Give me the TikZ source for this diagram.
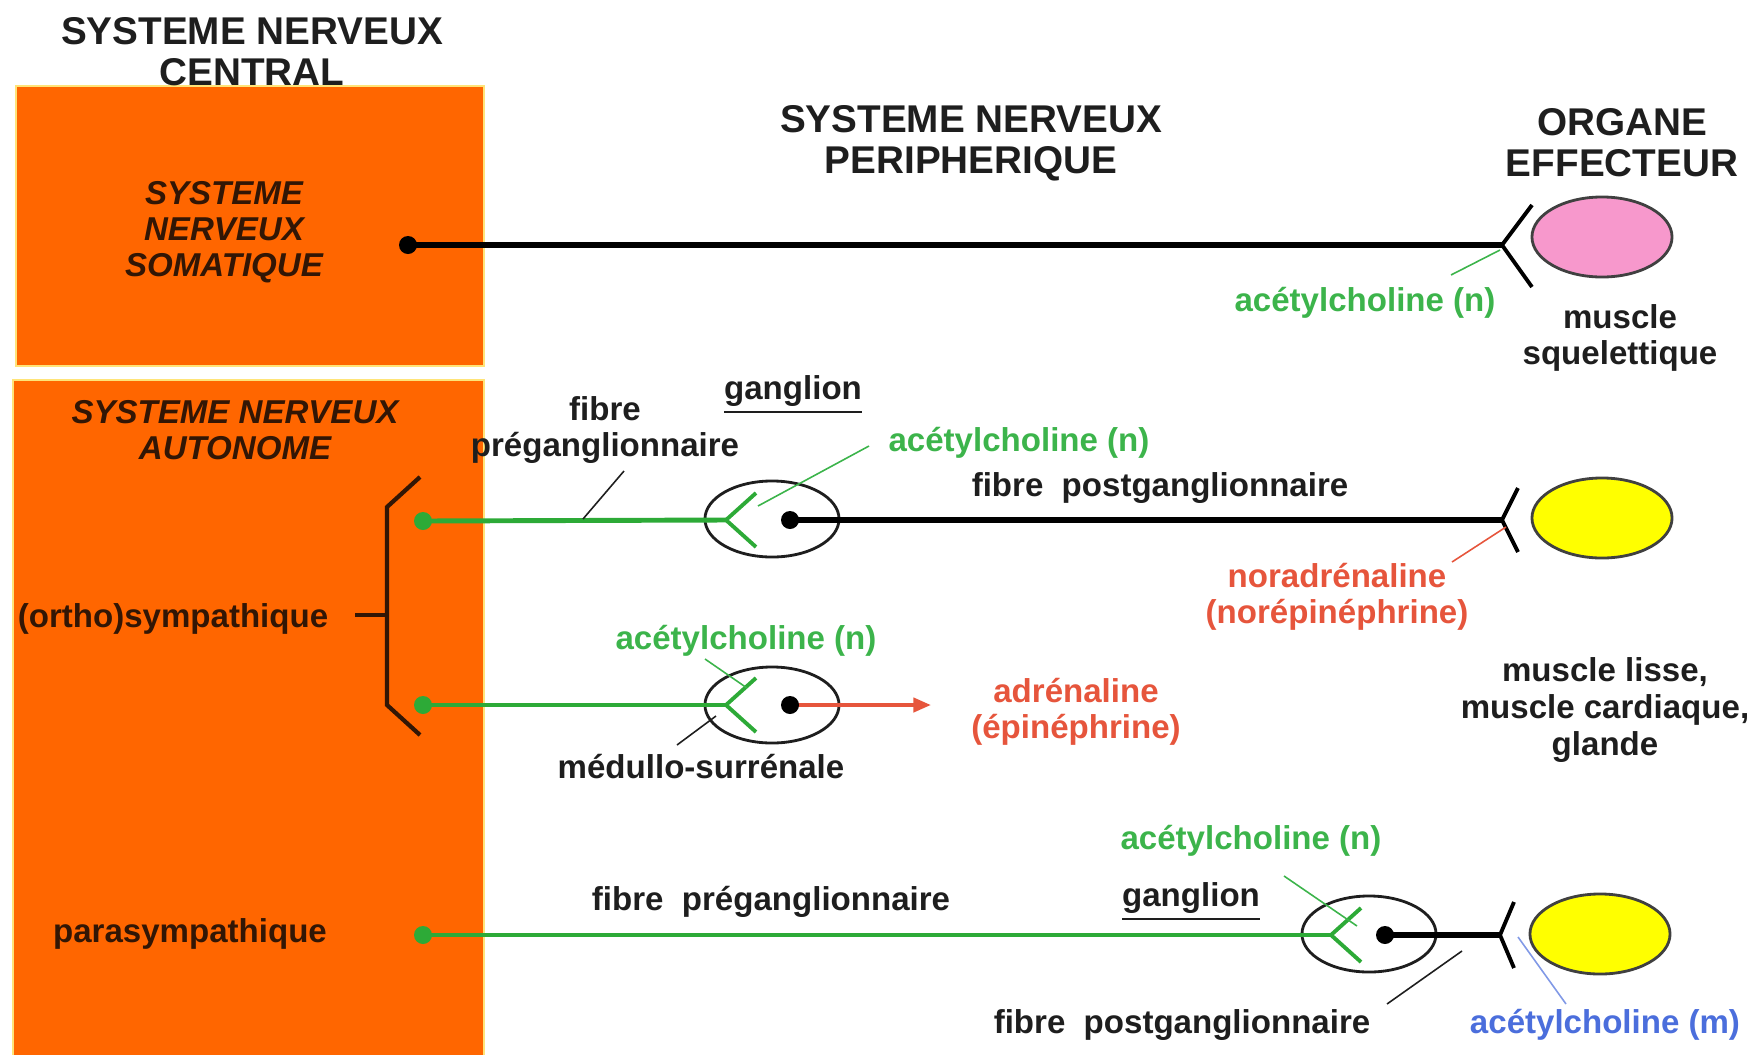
\documentclass[tikz,border=0pt]{standalone}
\usepackage{fontspec}
\setmainfont{Liberation Sans}
\usepackage{tikz}
\usetikzlibrary{shapes.geometric, arrows.meta}

\definecolor{snorange}{RGB}{255,102,0}
\definecolor{snedge}{RGB}{255,228,120}
\definecolor{snbrown}{RGB}{50,22,5}
\definecolor{sntext}{RGB}{30,30,30}
\definecolor{achgreen}{RGB}{60,180,75}
\definecolor{fibregreen}{RGB}{45,170,55}
\definecolor{nored}{RGB}{230,85,60}
\definecolor{achblue}{RGB}{75,110,220}
\definecolor{musclepink}{RGB}{247,152,204}
\definecolor{glandyellow}{RGB}{255,255,0}

\begin{document}
\begin{tikzpicture}[x=0.01cm, y=-0.01cm, every node/.style={font=\bfseries\fontsize{9.4}{10.4}\selectfont, align=center, inner sep=1pt, text=sntext}]

		\useasboundingbox (0,0) rectangle (1754,1054);

		% Define styles for the blocks, labels and fibres
		\tikzset{
			orange block/.style={fill=snorange, draw=snedge, line width=0.8pt},
			heading/.style={font=\bfseries\fontsize{11}{11.7}\selectfont},
			inner title/.style={font=\bfseries\itshape\fontsize{9.4}{10.3}\selectfont, text=snbrown},
			dark label/.style={text=snbrown},
			ach label/.style={text=achgreen},
			red label/.style={text=nored},
			blue label/.style={text=achblue},
			ganglion/.style={ellipse, draw=sntext, line width=0.8pt, minimum width=1.34cm, minimum height=0.76cm, inner sep=0pt},
			effector/.style={ellipse, draw=black!75, line width=0.8pt, minimum width=1.4cm, minimum height=0.8cm, inner sep=0pt},
			black fibre/.style={draw=black, line width=1.5pt},
			green fibre/.style={draw=fibregreen, line width=1.4pt},
			synapse/.style={line width=1.1pt},
			pointer/.style={line width=0.45pt}
		};

		% Central nervous system blocks
		\draw[orange block] (16,86) rectangle (484,366);
		\draw[orange block] (13,380) rectangle (484,1060);

		% Headings
		\node[heading] (snc) at (252,52) {SYSTEME NERVEUX\\CENTRAL};
		\node[heading] (snp) at (971,143) {SYSTEME NERVEUX\\PERIPHERIQUE};
		\node[heading] (oe) at (1622,143) {ORGANE\\EFFECTEUR};

		% Titles inside the orange blocks
		\node[inner title] (sns) at (224,232) {SYSTEME\\NERVEUX\\SOMATIQUE};
		\node[inner title] (sna) at (235,430) {SYSTEME NERVEUX\\AUTONOME};
		\node[dark label] (ortho) at (173,619) {(ortho)sympathique};
		\node[dark label] (para) at (190,934) {parasympathique};

		% Bracket of the (ortho)sympathique branch
		\draw[draw=snbrown, line width=1.2pt] (420,477) -- (387,507) -- (387,705) -- (420,735);
		\draw[draw=snbrown, line width=1.2pt] (355,615) -- (387,615);

		% Somatic fibre: dot -> skeletal muscle
		\coordinate (som start) at (408,245);
		\coordinate (som end) at (1502,245);
		\node[effector, fill=musclepink] (msk) at (1602,237) {};
		\draw[black fibre] (som start) -- (som end);
		\fill[black] (som start) circle (9);
		\draw[synapse] (som end) -- ++(30,-40);
		\draw[synapse] (som end) -- ++(30,42);
		\node[ach label] (ach som) at (1365,303) {acétylcholine (n)};
		\coordinate (ach som a) at (1451,275);
		\coordinate (ach som b) at (1500,250);
		\draw[pointer, draw=achgreen] (ach som a) -- (ach som b);
		\node (msq) at (1620,338) {muscle\\squelettique};

		% Sympathetic fibre 1: dot -> ganglion -> smooth muscle
		\coordinate (sy1 start) at (423,521);
		\coordinate (sy1 syn) at (726,520);
		\coordinate (sy1 post) at (790,520);
		\coordinate (sy1 end) at (1502,520);
		\node[ganglion] (g1) at (772,519) {};
		\node[effector, fill=glandyellow] (eff1) at (1602,518) {};
		\draw[green fibre] (sy1 start) -- (sy1 syn);
		\fill[fibregreen] (sy1 start) circle (9);
		\draw[synapse, draw=fibregreen] (sy1 syn) -- ++(30,-27);
		\draw[synapse, draw=fibregreen] (sy1 syn) -- ++(30,27);
		\draw[black fibre] (sy1 post) -- (sy1 end);
		\fill[black] (sy1 post) circle (9);
		\draw[synapse] (sy1 end) -- ++(16,-32);
		\draw[synapse] (sy1 end) -- ++(16,32);

		% Labels of sympathetic fibre 1
		\node (fpre1) at (605,430) {fibre\\préganglionnaire};
		\coordinate (fpre1 a) at (624,471);
		\coordinate (fpre1 b) at (583,519);
		\draw[pointer, draw=sntext] (fpre1 a) -- (fpre1 b);
		\node (gl1) at (793,395) {\underline{ganglion}};
		\node[ach label] (ach1) at (1019,443) {acétylcholine (n)};
		\coordinate (ach1 a) at (869,446);
		\coordinate (ach1 b) at (758,506);
		\draw[pointer, draw=achgreen] (ach1 a) -- (ach1 b);
		\node (fpost1) at (1160,488) {fibre\ \ postganglionnaire};
		\node[red label] (nor) at (1337,597) {noradrénaline\\(norépinéphrine)};
		\coordinate (nor a) at (1452,562);
		\coordinate (nor b) at (1506,527);
		\draw[pointer, draw=nored] (nor a) -- (nor b);

		% Sympathetic fibre 2: dot -> adrenal medulla -> adrenaline
		\coordinate (sy2 start) at (423,705);
		\coordinate (sy2 syn) at (726,705);
		\coordinate (sy2 post) at (790,705);
		\coordinate (sy2 end) at (931,705);
		\node[ganglion] (g2) at (772,705) {};
		\draw[green fibre] (sy2 start) -- (sy2 syn);
		\fill[fibregreen] (sy2 start) circle (9);
		\draw[synapse, draw=fibregreen] (sy2 syn) -- ++(30,-27);
		\draw[synapse, draw=fibregreen] (sy2 syn) -- ++(30,27);
		\draw[draw=nored, line width=1.1pt, -{Triangle[length=5pt, width=4pt]}] (sy2 post) -- (sy2 end);
		\fill[black] (sy2 post) circle (9);

		% Labels of sympathetic fibre 2
		\node[ach label] (ach2) at (746,641) {acétylcholine (n)};
		\coordinate (ach2 a) at (705,659);
		\coordinate (ach2 b) at (747,688);
		\draw[pointer, draw=achgreen] (ach2 a) -- (ach2 b);
		\node (medul) at (701,767) {médullo-surrénale};
		\coordinate (medul a) at (677,745);
		\coordinate (medul b) at (716,716);
		\draw[pointer, draw=sntext] (medul a) -- (medul b);
		\node[red label] (adr) at (1076,712) {adrénaline\\(épinéphrine)};
		\node (mliss) at (1605,710) {muscle lisse,\\muscle cardiaque,\\glande};

		% Parasympathetic fibre: dot -> ganglion -> effector
		\coordinate (pa start) at (423,935);
		\coordinate (pa syn) at (1331,935);
		\coordinate (pa post) at (1385,935);
		\coordinate (pa end) at (1500,935);
		\node[ganglion] (g3) at (1369,934) {};
		\node[effector, fill=glandyellow] (eff3) at (1600,934) {};
		\draw[green fibre] (pa start) -- (pa syn);
		\fill[fibregreen] (pa start) circle (9);
		\draw[synapse, draw=fibregreen] (pa syn) -- ++(30,-27);
		\draw[synapse, draw=fibregreen] (pa syn) -- ++(30,27);
		\draw[black fibre] (pa post) -- (pa end);
		\fill[black] (pa post) circle (9);
		\draw[synapse] (pa end) -- ++(14,-33);
		\draw[synapse] (pa end) -- ++(14,33);

		% Labels of the parasympathetic fibre
		\node (fpre3) at (771,902) {fibre\ \ préganglionnaire};
		\node (gl3) at (1191,902) {\underline{ganglion}};
		\node[ach label] (ach3) at (1251,841) {acétylcholine (n)};
		\coordinate (ach3 a) at (1284,876);
		\coordinate (ach3 b) at (1357,926);
		\draw[pointer, draw=achgreen] (ach3 a) -- (ach3 b);
		\node (fpost3) at (1182,1025) {fibre\ \ postganglionnaire};
		\coordinate (fpost3 a) at (1387,1004);
		\coordinate (fpost3 b) at (1462,951);
		\draw[pointer, draw=sntext] (fpost3 a) -- (fpost3 b);
		\node[blue label] (achm) at (1605,1025) {acétylcholine (m)};
		\coordinate (achm a) at (1566,1004);
		\coordinate (achm b) at (1518,937);
		\draw[pointer, draw=achblue!70] (achm a) -- (achm b);
	\end{tikzpicture}
\end{document}
